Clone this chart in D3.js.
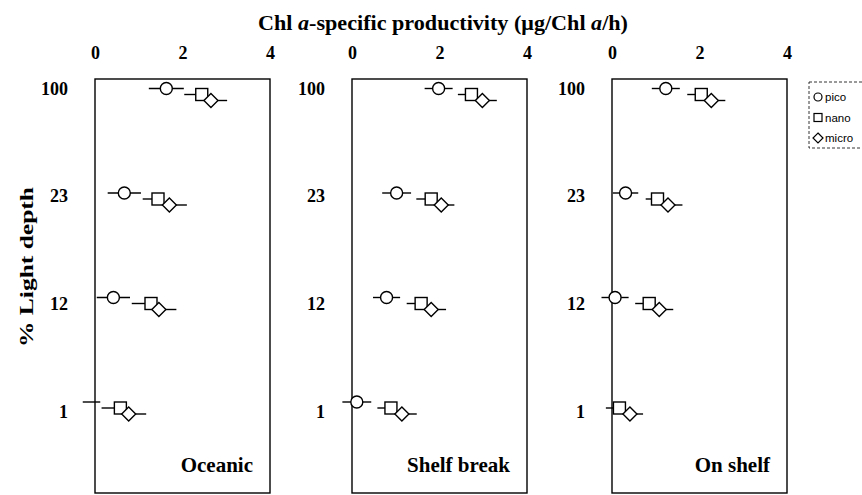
<!DOCTYPE html>
<html><head><meta charset="utf-8">
<script src="https://cdn.jsdelivr.net/npm/d3@7"></script>
<style>body{margin:0;background:#fff}svg{display:block}</style>
</head><body><svg id="c" width="862" height="495"></svg>
<script>
const rows = ["100","23","12","1"];
const seriesNames = ["pico","nano","micro"];
const panelNames = ["Oceanic","Shelf break","On shelf"];
const xTicks = [0,2,4];

// means per panel (rows: 100, 23, 12, 1)
const oceanicPico  = [1.63, 0.67, 0.42, -0.08];
const oceanicNano  = [2.44, 1.44, 1.28, 0.58];
const oceanicMicro = [2.65, 1.70, 1.46, 0.77];
const shelfPico    = [1.98, 1.02, 0.79, 0.11];
const shelfNano    = [2.73, 1.81, 1.58, 0.89];
const shelfMicro   = [2.98, 2.04, 1.81, 1.14];
const onPico       = [1.23, 0.31, 0.07, null];
const onNano       = [2.04, 1.04, 0.85, 0.17];
const onMicro      = [2.27, 1.28, 1.08, 0.41];
// error (SD) per panel
const oceanicPicoErr  = [0.40, 0.38, 0.38, 0.20];
const oceanicNanoErr  = [0.40, 0.35, 0.44, 0.43];
const oceanicMicroErr = [0.37, 0.40, 0.40, 0.40];
const shelfPicoErr    = [0.32, 0.33, 0.31, 0.33];
const shelfNanoErr    = [0.31, 0.34, 0.33, 0.31];
const shelfMicroErr   = [0.33, 0.30, 0.34, 0.34];
const onPicoErr       = [0.32, 0.29, 0.31, null];
const onNanoErr       = [0.32, 0.27, 0.32, 0.31];
const onMicroErr      = [0.32, 0.33, 0.32, 0.30];

const panels = [
  {name: panelNames[0], vals:[oceanicPico,oceanicNano,oceanicMicro], errs:[oceanicPicoErr,oceanicNanoErr,oceanicMicroErr]},
  {name: panelNames[1], vals:[shelfPico,shelfNano,shelfMicro], errs:[shelfPicoErr,shelfNanoErr,shelfMicroErr]},
  {name: panelNames[2], vals:[onPico,onNano,onMicro], errs:[onPicoErr,onNanoErr,onMicroErr]}
];

const svg = d3.select("#c");
const serif = "'Liberation Serif','Times New Roman',serif";
const panelLeft = [95, 352, 612];
const panelW = 175;
const plotTop = 79, plotBottom = 493;
const yRow = d3.scalePoint().domain(rows).range([88.5, 402]);
const yLab = d3.scalePoint().domain(rows).range([88, 411]);
const seriesOff = [0, 6, 12];
const errSide = [[-1,1],[-1,0],[0,1]];

panels.forEach((p, pi) => {
  const x = d3.scaleLinear().domain([0,4]).range([panelLeft[pi], panelLeft[pi]+panelW]);
  const g = svg.append("g");
  g.append("rect").attr("x", x(0)).attr("y", plotTop).attr("width", x(4)-x(0)).attr("height", plotBottom-plotTop)
    .attr("fill","none").attr("stroke","#000").attr("stroke-width",1.4);
  const ax = g.append("g").attr("transform", `translate(0,${plotTop-17})`)
    .call(d3.axisTop(x).tickValues(xTicks).tickSize(0).tickFormat(d3.format("d")));
  ax.select(".domain").remove();
  ax.selectAll("text").attr("font-family", serif).attr("font-weight","bold").attr("font-size",18).attr("fill","#000");
  const ay = g.append("g").attr("transform", `translate(${x(0)-24},0)`)
    .call(d3.axisLeft(yLab).tickSize(0));
  ay.select(".domain").remove();
  ay.selectAll("text").attr("font-family", serif).attr("font-weight","bold").attr("font-size",18).attr("fill","#000").attr("dy","0.35em");
  seriesNames.forEach((s, si) => {
    rows.forEach((r, ri) => {
      const v = p.vals[si][ri], e = p.errs[si][ri];
      if (v == null) return;
      const cy = yRow(r) + seriesOff[si];
      const lo = v + errSide[si][0]*e, hi = v + errSide[si][1]*e;
      g.append("line").attr("x1", x(lo)).attr("x2", x(hi)).attr("y1", cy).attr("y2", cy)
        .attr("stroke","#000").attr("stroke-width",1.4);
      if (v < 0) return;
      const cx = x(v);
      if (si === 0) {
        g.append("circle").attr("cx",cx).attr("cy",cy).attr("r",6)
          .attr("fill","#fff").attr("stroke","#000").attr("stroke-width",1.4);
      } else if (si === 1) {
        g.append("rect").attr("x",cx-6).attr("y",cy-6).attr("width",12).attr("height",12)
          .attr("fill","#fff").attr("stroke","#000").attr("stroke-width",1.4);
      } else {
        g.append("path").attr("d", `M${cx},${cy-7}L${cx+7},${cy}L${cx},${cy+7}L${cx-7},${cy}Z`)
          .attr("fill","#fff").attr("stroke","#000").attr("stroke-width",1.4);
      }
    });
  });
  g.append("text").attr("x", x(4)-17).attr("y", 472).attr("text-anchor","end")
    .attr("font-family", serif).attr("font-weight","bold").attr("font-size",21).text(p.name);
});

const title = svg.append("text").attr("x", 443).attr("y", 30).attr("text-anchor","middle")
  .attr("font-family", serif).attr("font-weight","bold").attr("font-size",21)
  .attr("textLength",370).attr("lengthAdjust","spacingAndGlyphs");
title.append("tspan").text("Chl ");
title.append("tspan").attr("font-style","italic").text("a");
title.append("tspan").text("-specific productivity (μg/Chl ");
title.append("tspan").attr("font-style","italic").text("a");
title.append("tspan").text("/h)");

svg.append("text").attr("transform","translate(33,267) rotate(-90)").attr("text-anchor","middle")
  .attr("font-family", serif).attr("font-weight","bold").attr("font-size",19)
  .attr("textLength",160).attr("lengthAdjust","spacingAndGlyphs").text("% Light depth");

const lg = svg.append("g");
lg.append("rect").attr("x",809).attr("y",82).attr("width",70).attr("height",66)
  .attr("fill","none").attr("stroke","#000").attr("stroke-width",0.8).attr("stroke-dasharray","3,2");
const legY = d3.scalePoint().domain(seriesNames).range([97, 138]);
seriesNames.forEach((s, si) => {
  const cy = legY(s), cx = 818;
  if (si === 0) lg.append("circle").attr("cx",cx).attr("cy",cy).attr("r",4).attr("fill","#fff").attr("stroke","#000").attr("stroke-width",1.2);
  else if (si === 1) lg.append("rect").attr("x",cx-4).attr("y",cy-4).attr("width",8).attr("height",8).attr("fill","#fff").attr("stroke","#000").attr("stroke-width",1.2);
  else lg.append("path").attr("d",`M${cx},${cy-5}L${cx+5},${cy}L${cx},${cy+5}L${cx-5},${cy}Z`).attr("fill","#fff").attr("stroke","#000").attr("stroke-width",1.2);
  lg.append("text").attr("x",825).attr("y",cy).attr("dy","0.35em").attr("font-family","'Liberation Sans',Arial,sans-serif")
    .attr("font-size",11.5).text(s);
});
</script></body></html>
